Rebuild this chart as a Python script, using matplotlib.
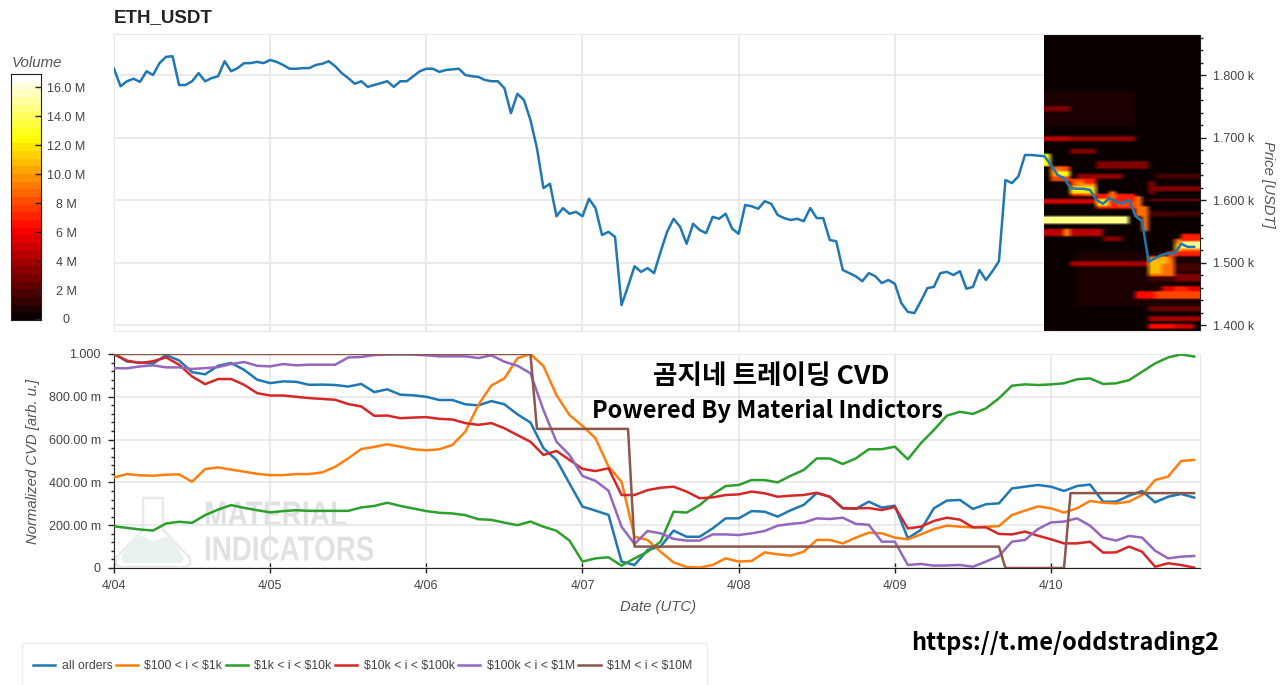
import numpy as np
import matplotlib
matplotlib.use('Agg')
import matplotlib.pyplot as plt
from matplotlib.patches import Polygon, Rectangle
from matplotlib.patheffects import AbstractPathEffect
from matplotlib.transforms import Affine2D

plt.rcParams['font.family'] = ['Liberation Sans', 'Noto Sans CJK KR', 'DejaVu Sans']

W, H = 1280, 685

# price, hourly from 4/04 00:00 (USDT)
price = [1810, 1782, 1790, 1794, 1789, 1806, 1800, 1819, 1829, 1830, 1784, 1784,
         1790, 1803, 1790, 1795, 1798, 1822, 1806, 1811, 1819, 1819, 1821, 1819,
         1824, 1821, 1816, 1810, 1810, 1811, 1811, 1816, 1818, 1822, 1814, 1803,
         1795, 1786, 1790, 1781, 1784, 1787, 1790, 1781, 1790, 1790, 1798, 1806,
         1810, 1810, 1805, 1808, 1809, 1810, 1800, 1798, 1797, 1792, 1790, 1790,
         1779, 1739, 1770, 1760, 1728, 1683, 1619, 1626, 1574, 1587, 1578, 1581,
         1574, 1602, 1587, 1544, 1549, 1541, 1432, 1462, 1494, 1485, 1491, 1483,
         1517, 1549, 1570, 1557, 1530, 1562, 1552, 1547, 1573, 1570, 1578, 1554,
         1546, 1592, 1590, 1586, 1598, 1594, 1576, 1571, 1568, 1570, 1566, 1587,
         1571, 1571, 1536, 1534, 1488, 1483, 1478, 1470, 1483, 1478, 1467, 1472,
         1466, 1435, 1421, 1419, 1438, 1459, 1461, 1483, 1485, 1480, 1486, 1458,
         1461, 1488, 1472, 1486, 1502, 1632, 1627, 1638, 1672, 1672, 1671, 1670,
         1656, 1640, 1635, 1619, 1618, 1618, 1616, 1600, 1594, 1603, 1597, 1595,
         1600, 1574, 1566, 1501, 1507, 1512, 1515, 1514, 1530, 1525, 1525]

# order book bands of the heatmap (hours after 4/09 23:00, price range, volume in M)
# later bands overwrite earlier ones
band_start = [0, 5, 0, 0, 4, 4, 8, 5, 0, 8, 0, 0, 2.6, 8.7, 4, 14.4, 17, 17.7, 20.5,
              16, 20, 16, 16, 17, 16, 17, 16, 16, 16, 20.5, 18,
              1, 4, 8, 16.4, 20,
              0, 1, 2, 2, 3, 4, 5, 4, 6, 8, 10, 11, 14, 15, 16.5, 18, 19, 20, 21, 20, 21.5]
band_end = [14, 24, 4, 4, 14, 8, 16, 12, 8, 14, 12.6, 8.7, 4, 12.3, 16, 23.6, 23.6, 23.6, 22,
            20, 23, 24, 24, 24, 17, 24, 24, 24, 24, 24, 24,
            4, 8, 14, 20, 24,
            1, 2, 3, 4, 4, 8, 8, 6, 8, 10, 11, 14, 15, 16, 18, 19, 20, 21.5, 24, 24, 24]
band_low = [1717, 1430, 1744, 1695, 1695, 1675, 1651, 1635, 1594, 1594, 1564, 1544, 1544, 1535, 1494,
            1444, 1444, 1455, 1455, 1393, 1393, 1405, 1422, 1615, 1610, 1636, 1597, 1576, 1472, 1472, 1488,
            1630, 1605, 1588, 1480, 1510,
            1653, 1640, 1645, 1638, 1630, 1610, 1622, 1605, 1628, 1590, 1603, 1590, 1575, 1552, 1483, 1500, 1505,
            1515, 1533, 1512, 1523]
band_high = [1776, 1520, 1752, 1702, 1702, 1683, 1661, 1643, 1603, 1603, 1573, 1553, 1553, 1544, 1504,
             1453, 1453, 1462, 1462, 1403, 1403, 1414, 1432, 1624, 1632, 1643, 1603, 1584, 1482, 1482, 1498,
             1655, 1635, 1612, 1512, 1540,
             1674, 1650, 1653, 1645, 1640, 1622, 1632, 1612, 1635, 1602, 1613, 1600, 1605, 1590, 1508, 1510, 1520,
             1530, 1545, 1520, 1533]
band_volume = [0.5, 0.5, 3, 4.5, 3.5, 3, 3, 3.5, 5, 4, 15, 4.5, 9.5, 3, 4,
               6.5, 8, 5.5, 7, 6.5, 5, 4, 2.5, 3, 3, 1.5, 2.5, 1.5, 1.5, 3, 1.5,
               8, 8, 7, 9, 9,
               13, 10, 9, 13, 8, 12, 10, 7, 7, 12, 9, 8, 9, 9, 11, 11, 8, 11, 7, 7, 15]

# normalized CVD, every 2 hours
hours = list(range(0, 168, 2))
all_orders = [1.0, .965, .96, .955, .995, .97, .915, .905, .945, .958, .926, .88, .864, .872,
              .87, .856, .857, .855, .848, .86, .822, .835, .81, .807, .80, .785, .785, .765,
              .76, .78, .765, .718, .68, .56, .505, .395, .287, .268, .248, .03, .014, .084,
              .10, .175, .146, .146, .185, .232, .232, .266, .263, .24, .27, .295, .35, .333,
              .28, .276, .31, .282, .291, .139, .178, .279, .315, .318, .276, .298, .302, .372,
              .38, .388, .38, .36, .383, .39, .31, .31, .338, .36, .307, .333, .346, .329]
cvd_100_1k = [.423, .439, .433, .431, .436, .4375, .403, .4625, .47, .46, .45, .44, .434, .434,
              .439, .439, .447, .473, .5125, .556, .566, .578, .567, .555, .55, .555, .575, .6375,
              .7625, .853, .886, .98, 1.0, .944, .808, .715, .664, .606, .474, .403, .146, .131,
              .076, .026, .005, .002, .014, .045, .03, .033, .073, .064, .058, .076, .131, .131,
              .115, .142, .165, .162, .142, .134, .157, .182, .198, .193, .19, .193, .196, .248,
              .268, .288, .279, .259, .279, .313, .305, .302, .31, .341, .411, .427, .5, .505]
cvd_1k_10k = [.195, .1875, .18, .175, .208, .216, .211, .247, .273, .294, .281, .27, .26, .266,
              .27, .267, .267, .267, .267, .283, .29, .305, .29, .278, .266, .258, .255, .247,
              .228, .225, .212, .2, .217, .193, .174, .128, .03, .045, .05, .011, .045, .076,
              .123, .263, .259, .294, .344, .383, .388, .411, .411, .4, .431, .458, .512, .512,
              .486, .512, .555, .555, .567, .508, .583, .645, .712, .73, .72, .746, .793, .852,
              .858, .855, .858, .863, .882, .886, .86, .863, .878, .917, .956, .984, .998, .988]
cvd_10k_100k = [1.0, .969, .958, .966, .984, .95, .895, .859, .883, .883, .856, .817, .806, .806,
                .80, .794, .79, .786, .766, .755, .711, .7125, .70, .703, .705, .697, .694, .677,
                .669, .677, .653, .621, .59, .528, .547, .505, .463, .453, .466, .341, .341, .364,
                .375, .38, .357, .326, .33, .341, .344, .357, .349, .333, .338, .341, .352, .333,
                .279, .279, .28, .271, .285, .185, .193, .22, .235, .226, .19, .19, .159, .157,
                .17, .151, .134, .115, .115, .123, .072, .073, .1, .076, .006, .022, .014, .002]
cvd_100k_1m = [.934, .933, .942, .947, .9375, .9375, .93, .934, .939, .953, .9625, .945, .942, .953,
               .947, .95, .95, .95, .984, .986, .995, .997, .998, .997, .994, .989, .989, .989,
               .981, .994, .964, .945, .91, .738, .59, .528, .43, .407, .361, .193, .112, .173,
               .162, .136, .128, .128, .157, .157, .154, .162, .173, .198, .206, .212, .232, .229,
               .235, .206, .202, .123, .123, .014, .019, .011, .012, .014, .006, .03, .056, .123,
               .131, .182, .213, .217, .232, .198, .142, .128, .15, .142, .081, .045, .053, .056]
# this one is a staircase so it gets its own hours
hours_1m_10m = [0, 64, 65, 79, 80, 136, 137, 146, 147, 166]
cvd_1m_10m = [1.0, 1.0, .65, .65, .10, .10, 0, 0, .35, .35]

series_labels = ['all orders', r'\$100 < i < \$1k', r'\$1k < i < \$10k', r'\$10k < i < \$100k',
                 r'\$100k < i < \$1M', r'\$1M < i < \$10M']
series_colors = ['#1f77b4', '#ff7f0e', '#2ca02c', '#d62728', '#9467bd', '#8c564b']

day_ticks = [0, 24, 48, 72, 96, 120, 144]
day_labels = ['4/04', '4/05', '4/06', '4/07', '4/08', '4/09', '4/10']
price_ticks = [1400, 1500, 1600, 1700, 1800]
price_labels = ['1.400 k', '1.500 k', '1.600 k', '1.700 k', '1.800 k']
cvd_ticks = [0, .2, .4, .6, .8, 1.0]
cvd_labels = ['0', '200.00 m', '400.00 m', '600.00 m', '800.00 m', '1.000']
volume_ticks = [0, 2, 4, 6, 8, 10, 12, 14, 16]
volume_labels = ['0', '2 M', '4 M', '6 M', '8 M', '10.0 M', '12.0 M', '14.0 M', '16.0 M']

GRID = '#e8e8e8'
TXT = '#444444'
LBL = '#555555'


class Squeeze(AbstractPathEffect):
    # no condensed bold font here, so narrow the glyph outlines
    def __init__(self, sx):
        super().__init__()
        self.sx = sx

    def draw_path(self, renderer, gc, tpath, affine, rgbFace=None):
        renderer.draw_path(gc, tpath, Affine2D().scale(self.sx, 1) + affine, rgbFace)


def box(x0, y0, x1, y1):
    # pixel box of the screenshot -> figure fractions
    return [x0 / W, 1 - y1 / H, (x1 - x0) / W, (y1 - y0) / H]


def fx(x):
    return x / W


def fy(y):
    return 1 - y / H


fig = plt.figure(figsize=(W / 100, H / 100), dpi=100, facecolor='white')

# ---- price panel with the heatmap
ax1 = fig.add_axes(box(114, 34, 1200, 331), facecolor='none')
price_edges = np.arange(1390, 1870, 4)
volume = np.zeros((len(price_edges) - 1, 24))
for s, e, lo, hi, v in zip(band_start, band_end, band_low, band_high, band_volume):
    rows = (price_edges[:-1] >= lo - 2) & (price_edges[:-1] < hi - 2)
    cols = (np.arange(24) >= s - 0.5) & (np.arange(24) < e - 0.5)
    volume[np.ix_(rows, cols)] = v * 1e6

ax1.imshow(volume, origin='lower', aspect='auto', cmap='hot', vmin=0, vmax=17e6,
           extent=[143, 167, 1390, 1866], interpolation='bilinear', zorder=2)
ax1.plot(range(len(price)), price, color=series_colors[0], lw=1.8, zorder=3)
ax1.set_xlim(0, 166.9)
ax1.set_ylim(1390.4, 1865.6)
ax1.set_xticks(day_ticks)
ax1.set_xticklabels([])
ax1.yaxis.tick_right()
ax1.set_yticks(price_ticks)
ax1.set_yticklabels(price_labels, color=TXT, fontsize=9)
ax1.set_yticks(np.arange(1400, 1861, 20), minor=True)
ax1.tick_params(axis='x', length=0)
ax1.tick_params(axis='y', which='major', length=4.5, width=1, color='#222222', pad=5)
ax1.tick_params(axis='y', which='minor', length=2.5, width=1, color='#222222')
ax1.grid(True, which='major', color=GRID, lw=1.2, zorder=0)
ax1.set_axisbelow(True)
for s in ['top', 'bottom', 'left']:
    ax1.spines[s].set_color(GRID)
ax1.spines['right'].set_color('#222222')
fig.text(fx(1268), fy(184), 'Price [USDT]', rotation=270, style='italic', color=LBL,
         fontsize=10.7, ha='center', va='center')
fig.text(fx(114), fy(18), 'ETH_USDT', fontweight='bold', fontsize=13.5, color='#222222',
         ha='left', va='center')

# ---- CVD panel
ax2 = fig.add_axes(box(114, 354, 1200, 568), facecolor='none')
all_series = [all_orders, cvd_100_1k, cvd_1k_10k, cvd_10k_100k, cvd_100k_1m]
handles = []
for vals, lab, col in zip(all_series, series_labels, series_colors):
    h, = ax2.plot(hours, vals, color=col, lw=1.8, label=lab, zorder=3)
    handles.append(h)
h, = ax2.plot(hours_1m_10m, cvd_1m_10m, color=series_colors[5], lw=1.8, label=series_labels[5], zorder=3)
handles.append(h)
ax2.set_xlim(0, 166.9)
ax2.set_ylim(0, 1)
ax2.set_xticks(day_ticks)
ax2.set_xticklabels(day_labels, color=TXT, fontsize=9)
ax2.set_yticks(cvd_ticks)
ax2.set_yticklabels(cvd_labels, color=TXT, fontsize=9)
ax2.set_yticks(np.arange(0, 1.001, .04), minor=True)
ax2.tick_params(axis='x', which='major', direction='inout', length=7, width=1, color='#222222', pad=5)
ax2.tick_params(axis='y', which='major', length=4.5, width=1, color='#222222', pad=5)
ax2.tick_params(axis='y', which='minor', length=2.5, width=1, color='#222222')
ax2.grid(True, which='major', color=GRID, lw=1.2, zorder=0)
ax2.set_axisbelow(True)
for s in ['top', 'right']:
    ax2.spines[s].set_color(GRID)
for s in ['left', 'bottom']:
    ax2.spines[s].set_color('#222222')
fig.text(fx(33), fy(461), 'Normalized CVD [arb. u.]', rotation=90, style='italic', color=LBL,
         fontsize=10.7, ha='center', va='center')
fig.text(fx(658), fy(607), 'Date (UTC)', style='italic', color=LBL, fontsize=10.7,
         ha='center', va='center')

# watermark behind the lines
flask = [(143, 498), (163, 498), (163, 530), (190, 558), (190, 564), (186, 567), (120, 567), (116, 564),
         (116, 558), (143, 530)]
liquid = [(132, 540), (142, 536), (152, 541), (170, 536), (184, 558), (182, 563), (124, 563), (121, 558)]
fig.add_artist(Polygon([(fx(x), fy(y)) for x, y in flask], closed=True, transform=fig.transFigure,
                       facecolor='none', edgecolor='#eaeaea', lw=1.8, zorder=-1))
fig.add_artist(Polygon([(fx(x), fy(y)) for x, y in liquid], closed=True, transform=fig.transFigure,
                       facecolor='#e8f0f0', edgecolor='none', zorder=-1))
fig.text(fx(204), fy(516), 'MATERIAL', fontweight='bold', fontsize=25, color='#dfe1e3',
         ha='left', va='center', zorder=-1, path_effects=[Squeeze(0.81)])
fig.text(fx(204), fy(551), 'INDICATORS', fontweight='bold', fontsize=25, color='#dfe1e3',
         ha='left', va='center', zorder=-1, path_effects=[Squeeze(0.8)])

# ---- volume colorbar
cax = fig.add_axes(box(11, 74, 41, 320))
gradient = np.linspace(0, 17, 32).reshape(-1, 1)
cax.imshow(gradient, origin='lower', aspect='auto', cmap='hot', vmin=0, vmax=17, extent=[-1, 2, -0.07, 16.93])
cax.set_xlim(-1, 2)
cax.set_ylim(-0.07, 16.93)
cax.set_xticks([])
cax.yaxis.tick_right()
cax.set_yticks(volume_ticks)
cax.set_yticklabels(volume_labels, color=TXT, fontsize=9, ha='center')
cax.tick_params(axis='y', direction='in', length=4.5, width=1, color='#222222', pad=18)
for s in cax.spines.values():
    s.set_color('#222222')
fig.text(fx(12), fy(63), 'Volume', style='italic', color=LBL, fontsize=10.8, ha='left', va='center')

# ---- legend, box runs off the bottom of the picture
fig.add_artist(Rectangle((fx(22), fy(690)), 685 / W, 47 / H, transform=fig.transFigure,
                         facecolor='white', edgecolor='#eeeeee', lw=1, zorder=-1))
fig.legend(handles=handles, loc='upper left', bbox_to_anchor=(fx(33), fy(660)), ncol=6, frameon=False,
           fontsize=8.8, borderpad=0, borderaxespad=0, handlelength=1.84, handletextpad=0.5,
           columnspacing=0.28, labelcolor=TXT)

# ---- text pasted over the chart
overlay_font = ['Noto Sans CJK KR', 'DejaVu Sans']
fig.text(fx(771), fy(377), '곰지네 트레이딩 CVD', family=overlay_font, fontweight='bold', fontsize=19.2,
         color='black', ha='center', va='center', zorder=10)
fig.text(fx(767), fy(411), 'Powered By Material Indictors', family=overlay_font, fontweight='bold', fontsize=17,
         color='black', ha='center', va='center', zorder=10)
fig.text(fx(1065), fy(643), 'https://t.me/oddstrading2', family=overlay_font, fontweight='bold', fontsize=17,
         color='black', ha='center', va='center', zorder=10)

fig.savefig('out.png', dpi=100)
